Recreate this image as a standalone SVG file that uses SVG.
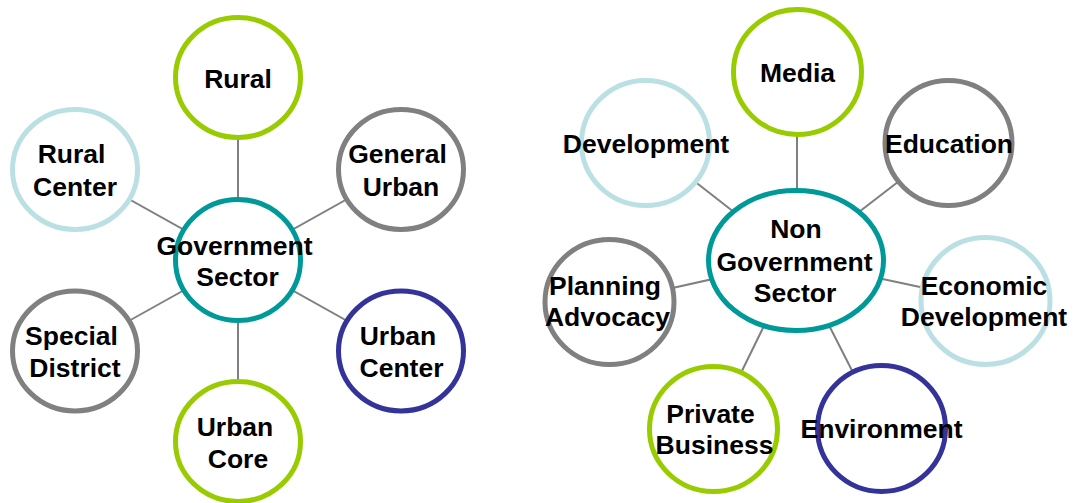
<svg xmlns="http://www.w3.org/2000/svg" width="1075" height="503" viewBox="0 0 1075 503">
<style>
.n{fill:#fff;stroke-width:5}
.g{stroke:#99CC00}
.b{stroke:#BBE0E3}
.y{stroke:#808080}
.v{stroke:#333399}
.t{stroke:#009999}
.c line{stroke:#808080;stroke-width:2}
text{font-family:"Liberation Sans",Arial,sans-serif;font-weight:bold;font-size:26.5px;fill:#000;text-anchor:middle}
</style>
<rect width="1075" height="503" fill="#fff"/>
<g id="connectors" class="c">
<line x1="238" y1="260" x2="238" y2="77"/>
<line x1="238" y1="260" x2="75" y2="169"/>
<line x1="238" y1="260" x2="401" y2="169"/>
<line x1="238" y1="260" x2="75" y2="351"/>
<line x1="238" y1="260" x2="401" y2="351"/>
<line x1="238" y1="260" x2="238" y2="441"/>
<line x1="797" y1="260.5" x2="797" y2="72"/>
<line x1="796" y1="260.5" x2="645.5" y2="143"/>
<line x1="796" y1="260.5" x2="948.5" y2="143"/>
<line x1="796" y1="260.5" x2="609.5" y2="302"/>
<line x1="796" y1="260.5" x2="985.5" y2="301"/>
<line x1="796" y1="260.5" x2="713.5" y2="429"/>
<line x1="796" y1="260.5" x2="881.5" y2="428.5"/>
</g>
<g id="rural"><ellipse class="n g" cx="238" cy="77.5" rx="62.5" ry="60"/><text x="238" y="88">Rural</text></g>
<g id="rural-center"><ellipse class="n b" cx="75" cy="169.5" rx="62.5" ry="60"/><text x="71.5" y="163">Rural</text><text x="75" y="195.5">Center</text></g>
<g id="general-urban"><ellipse class="n y" cx="401" cy="169.5" rx="62.5" ry="60"/><text x="397.5" y="163">General</text><text x="401" y="195.5">Urban</text></g>
<g id="special-district"><ellipse class="n y" cx="75" cy="351" rx="62.5" ry="60"/><text x="71.5" y="345">Special</text><text x="75" y="377">District</text></g>
<g id="urban-center"><ellipse class="n v" cx="401" cy="351" rx="62.5" ry="60"/><text x="398" y="345">Urban</text><text x="401.5" y="377">Center</text></g>
<g id="urban-core"><ellipse class="n g" cx="238" cy="441.5" rx="62.5" ry="60"/><text x="235" y="436">Urban</text><text x="238" y="468">Core</text></g>
<g id="government-sector"><ellipse class="n t" cx="238" cy="260" rx="62.5" ry="60.5"/><text x="234.5" y="254.5">Government</text><text x="237.5" y="286">Sector</text></g>
<g id="media"><ellipse class="n g" cx="797.5" cy="72" rx="64" ry="62.5"/><text x="797.5" y="82">Media</text></g>
<g id="development"><ellipse class="n b" cx="645.5" cy="143" rx="64" ry="62.5"/><text x="646" y="153">Development</text></g>
<g id="education"><ellipse class="n y" cx="948.5" cy="143" rx="63.5" ry="62.5"/><text x="949" y="153">Education</text></g>
<g id="planning-advocacy"><ellipse class="n y" cx="609.5" cy="302" rx="64.5" ry="62.5"/><text x="605" y="295">Planning</text><text x="607.5" y="326">Advocacy</text></g>
<g id="economic-development"><ellipse class="n b" cx="985.5" cy="301" rx="64.5" ry="63.5"/><text x="984" y="295">Economic</text><text x="984" y="326">Development</text></g>
<g id="private-business"><ellipse class="n g" cx="713.5" cy="429" rx="64" ry="62.5"/><text x="710.5" y="423">Private</text><text x="714.5" y="454">Business</text></g>
<g id="environment"><ellipse class="n v" cx="881.5" cy="428.5" rx="64" ry="63"/><text x="881.5" y="438">Environment</text></g>
<g id="non-government-sector"><ellipse class="n t" cx="796" cy="260.5" rx="87.5" ry="70"/><text x="796" y="237.5">Non</text><text x="794.5" y="270.5">Government</text><text x="795" y="302">Sector</text></g>
</svg>
